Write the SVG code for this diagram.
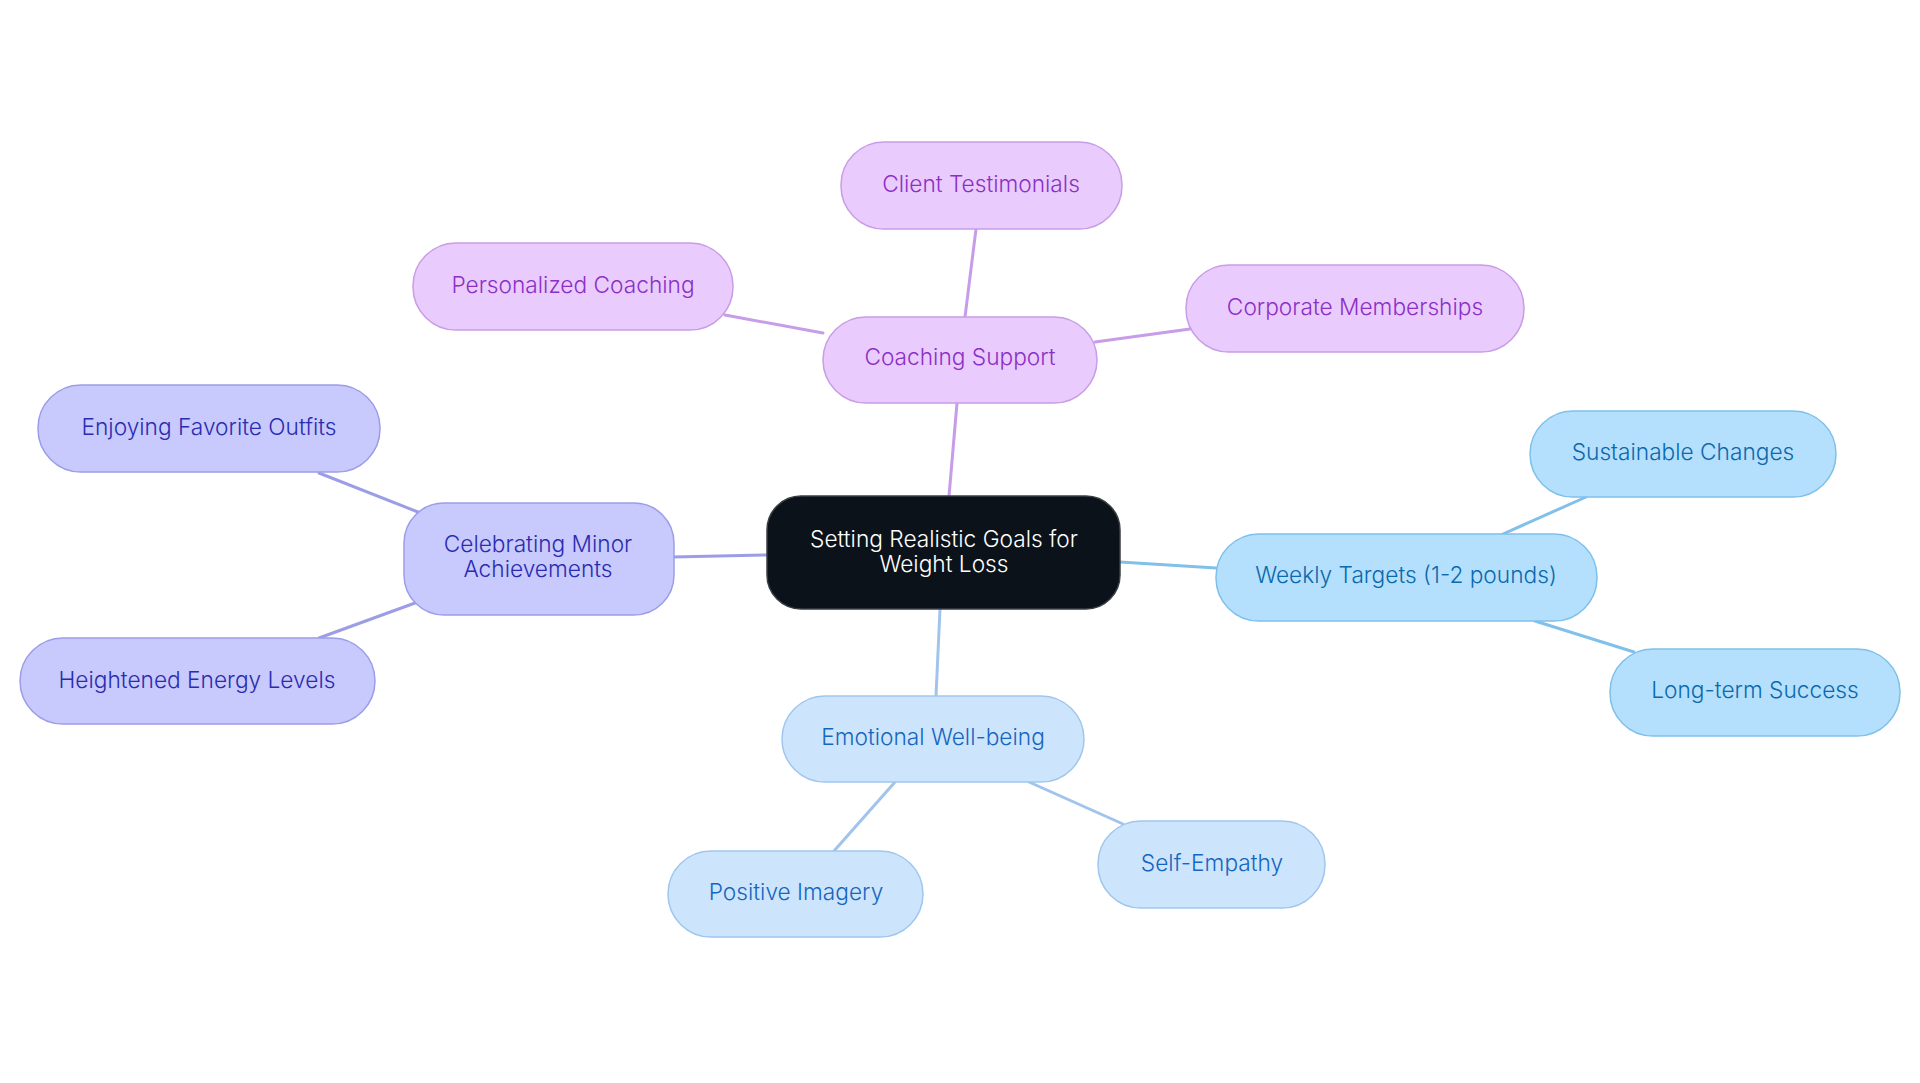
<svg xmlns="http://www.w3.org/2000/svg" width="1920" height="1083" viewBox="0 0 1920 1083">
<style>
text{font-family:Inter,"Noto Sans","Liberation Sans",sans-serif;font-size:22.7px;font-weight:300;text-anchor:middle}
.c rect{fill:#0c1219;stroke:#3a3f45;stroke-width:1.5}
.c text{fill:#ffffff}
.p rect{fill:#eacbfd;stroke:#c89de6;stroke-width:1.5}
.p text{fill:#8b30c6}
.i rect{fill:#c8c9fc;stroke:#9c9de8;stroke-width:1.5}
.i text{fill:#2a2cb0}
.b rect{fill:#b4e0fd;stroke:#7fc0ea;stroke-width:1.5}
.b text{fill:#0c69ac}
.e rect{fill:#cde5fc;stroke:#a0c6ee;stroke-width:1.5}
.e text{fill:#1666be}
#connectors line{stroke-width:3;stroke-linecap:round}
.lp{stroke:#c79ce8}.li{stroke:#9c9de6}.lb{stroke:#80c0ea}.le{stroke:#a0c4ec}
</style>
<rect width="1920" height="1083" fill="#ffffff"/>
<g id="connectors">
<line class="lp" x1="949" y1="496" x2="957" y2="403"/>
<line class="lp" x1="965" y1="317" x2="976" y2="229"/>
<line class="lp" x1="823" y1="333" x2="725" y2="315"/>
<line class="lp" x1="1095" y1="342" x2="1190" y2="329"/>
<line class="li" x1="767" y1="555" x2="673" y2="557"/>
<line class="li" x1="418" y1="512" x2="319" y2="473"/>
<line class="li" x1="415" y1="603" x2="319" y2="638"/>
<line class="lb" x1="1120" y1="562" x2="1216" y2="568"/>
<line class="lb" x1="1503" y1="534" x2="1586" y2="497"/>
<line class="lb" x1="1535" y1="621" x2="1634" y2="652"/>
<line class="le" x1="940" y1="609" x2="936" y2="696"/>
<line class="le" x1="895" y1="782" x2="834" y2="851"/>
<line class="le" x1="1029" y1="782" x2="1123" y2="824"/>
</g>
<g id="root" class="c">
<rect x="767" y="496" width="353" height="113" rx="34"/>
<text x="944" y="547">Setting Realistic Goals for</text>
<text x="944" y="572">Weight Loss</text>
</g>
<g id="coaching" class="p">
<rect x="823" y="317" width="274" height="86" rx="43"/>
<text x="960" y="365">Coaching Support</text>
</g>
<g id="testimonials" class="p">
<rect x="841" y="142" width="281" height="87" rx="43"/>
<text x="981" y="192">Client Testimonials</text>
</g>
<g id="personalized" class="p">
<rect x="413" y="243" width="320" height="87" rx="43"/>
<text x="573" y="293">Personalized Coaching</text>
</g>
<g id="corporate" class="p">
<rect x="1186" y="265" width="338" height="87" rx="43"/>
<text x="1355" y="315">Corporate Memberships</text>
</g>
<g id="celebrating" class="i">
<rect x="404" y="503" width="270" height="112" rx="40"/>
<text x="538" y="552">Celebrating Minor</text>
<text x="538" y="577">Achievements</text>
</g>
<g id="outfits" class="i">
<rect x="38" y="385" width="342" height="87" rx="43"/>
<text x="209" y="435">Enjoying Favorite Outfits</text>
</g>
<g id="energy" class="i">
<rect x="20" y="638" width="355" height="86" rx="43"/>
<text x="197" y="688">Heightened Energy Levels</text>
</g>
<g id="weekly" class="b">
<rect x="1216" y="534" width="381" height="87" rx="43"/>
<text x="1406" y="583">Weekly Targets (1-2 pounds)</text>
</g>
<g id="sustainable" class="b">
<rect x="1530" y="411" width="306" height="86" rx="43"/>
<text x="1683" y="460">Sustainable Changes</text>
</g>
<g id="longterm" class="b">
<rect x="1610" y="649" width="290" height="87" rx="43"/>
<text x="1755" y="698">Long-term Success</text>
</g>
<g id="emotional" class="e">
<rect x="782" y="696" width="302" height="86" rx="43"/>
<text x="933" y="745">Emotional Well-being</text>
</g>
<g id="positive" class="e">
<rect x="668" y="851" width="255" height="86" rx="43"/>
<text x="796" y="900">Positive Imagery</text>
</g>
<g id="selfempathy" class="e">
<rect x="1098" y="821" width="227" height="87" rx="43"/>
<text x="1212" y="871">Self-Empathy</text>
</g>
</svg>
